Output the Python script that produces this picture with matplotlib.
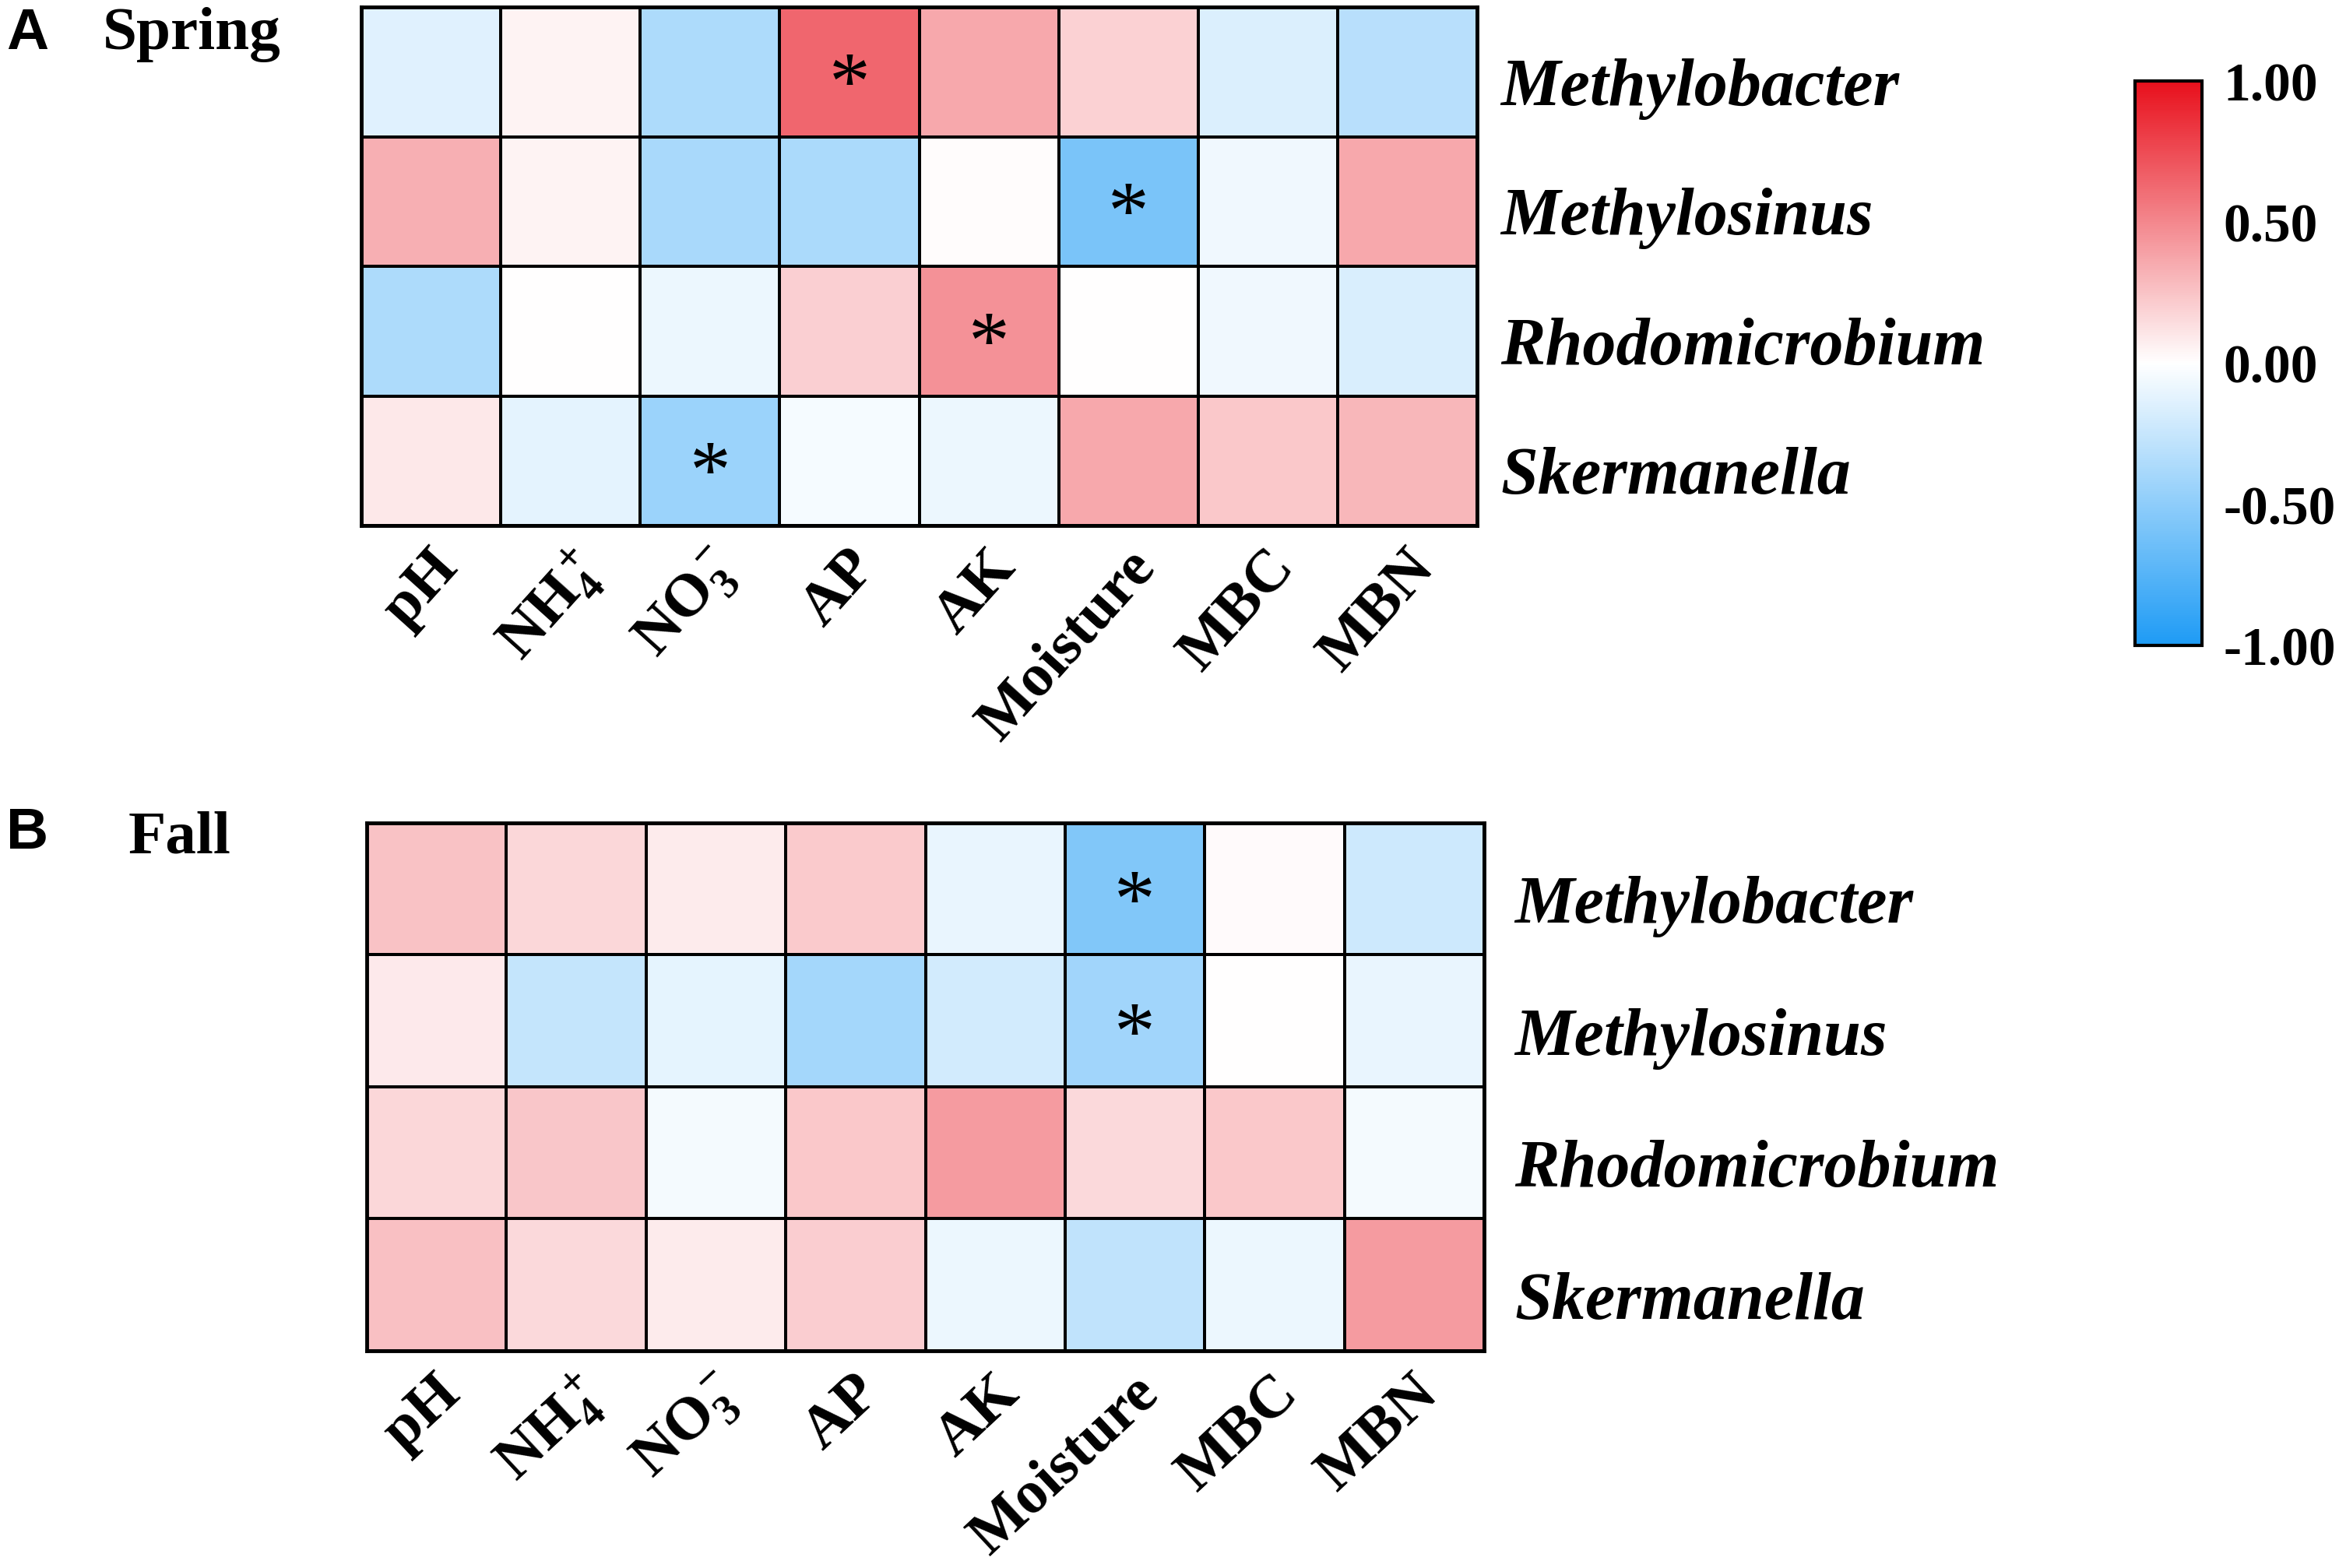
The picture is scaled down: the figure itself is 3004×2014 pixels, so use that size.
import matplotlib.pyplot as plt
import numpy as np
from matplotlib.colors import LinearSegmentedColormap
from matplotlib.transforms import ScaledTranslation

plt.rcParams['font.family'] = ['Liberation Serif', 'DejaVu Serif']
plt.rcParams['font.weight'] = 'bold'
plt.rcParams['mathtext.fontset'] = 'custom'
plt.rcParams['mathtext.rm'] = 'Liberation Serif:bold'
plt.rcParams['mathtext.it'] = 'Liberation Serif:italic:bold'
plt.rcParams['mathtext.bf'] = 'Liberation Serif:bold'

genera = ['Methylobacter', 'Methylosinus', 'Rhodomicrobium', 'Skermanella']
factors = ['pH', r'NH$_4^+$', r'NO$_3^-$', 'AP', 'AK', 'Moisture', 'MBC', 'MBN']

# correlation coefficients
spring = [
    [-0.14, 0.05, -0.36, 0.64, 0.36, 0.19, -0.16, -0.32],
    [0.33, 0.05, -0.38, -0.37, 0.01, -0.59, -0.07, 0.36],
    [-0.36, 0.00, -0.08, 0.20, 0.46, 0.00, -0.07, -0.17],
    [0.10, -0.12, -0.44, -0.04, -0.08, 0.36, 0.23, 0.30],
]
fall = [
    [0.25, 0.17, 0.08, 0.22, -0.10, -0.56, 0.02, -0.22],
    [0.09, -0.26, -0.11, -0.40, -0.20, -0.42, 0.00, -0.10],
    [0.17, 0.24, -0.05, 0.23, 0.42, 0.16, 0.23, -0.05],
    [0.26, 0.16, 0.08, 0.21, -0.08, -0.28, -0.08, 0.42],
]
# significant cells (row, column)
spring_sig = [(0, 3), (1, 5), (2, 4), (3, 2)]
fall_sig = [(0, 5), (1, 5)]

cbar_ticks = [-1.0, -0.5, 0.0, 0.5, 1.0]

cmap = LinearSegmentedColormap.from_list('bwr_soft', ['#1E9BF5', '#FFFFFF', '#E8101C'])

fig = plt.figure(figsize=(30.04, 20.15), dpi=100)
ax_a = fig.add_axes([0.1545, 0.6645, 0.477, 0.3305])
ax_b = fig.add_axes([0.1568, 0.1385, 0.4777, 0.3365])
cax = fig.add_axes([0.9128, 0.588, 0.0286, 0.36])


def draw_panel(ax, vals, sig, label_dx, rot):
    mesh = ax.pcolormesh(np.array(vals), cmap=cmap, vmin=-1, vmax=1,
                         edgecolors='black', linewidth=2.8)
    ax.set_xlim(0, len(factors))
    ax.set_ylim(len(genera), 0)
    for s in ax.spines.values():
        s.set_linewidth(3.5)
    ax.set_yticks([])
    ax.set_xticks(np.arange(len(factors)) + 0.5)
    ax.set_xticklabels(factors, fontsize=56, rotation=rot, ha='right', va='top',
                       rotation_mode='anchor')
    ax.tick_params(axis='x', length=0, pad=13)
    shift = ScaledTranslation(-0.04, 0, fig.dpi_scale_trans)
    for lbl in ax.get_xticklabels():
        lbl.set_transform(lbl.get_transform() + shift)
    for i, name in enumerate(genera):
        ax.text(len(factors) + label_dx, i + 0.75, name, fontsize=62,
                style='italic', fontweight='bold', ha='left', va='baseline',
                clip_on=False)
    for r, c in sig:
        ax.text(c + 0.5, r + 0.78, '*', fontsize=76, fontweight='normal',
                ha='center', va='baseline')
    return mesh


mesh = draw_panel(ax_a, spring, spring_sig, 0.17, 48)
draw_panel(ax_b, fall, fall_sig, 0.22, 43)

cb = fig.colorbar(mesh, cax=cax, ticks=cbar_ticks)
cb.ax.set_yticklabels(['%.2f' % t for t in cbar_ticks])
cb.ax.tick_params(length=0, pad=20, labelsize=50)
cb.outline.set_linewidth(3)

fig.text(8 / 3004, 1 - 63 / 2015, 'A', family='Liberation Sans', fontsize=54,
         fontweight='bold', va='baseline')
fig.text(132 / 3004, 1 - 63 / 2015, 'Spring', fontsize=57, fontweight='bold',
         va='baseline')
fig.text(8 / 3004, 1 - 1090 / 2015, 'B', family='Liberation Sans', fontsize=54,
         fontweight='bold', va='baseline')
fig.text(165 / 3004, 1 - 1096 / 2015, 'Fall', fontsize=57, fontweight='bold',
         va='baseline')

fig.savefig('out.png', dpi=100)
